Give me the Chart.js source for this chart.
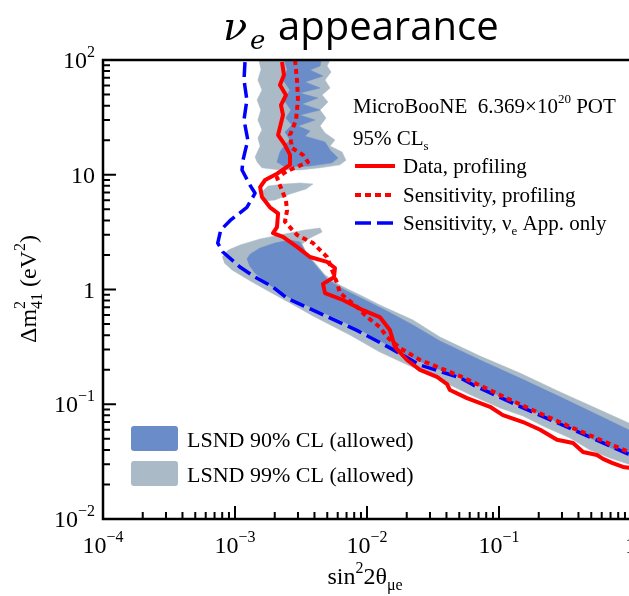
<!DOCTYPE html>
<html>
<head>
<meta charset="utf-8">
<script src="https://cdn.jsdelivr.net/npm/chart.js@4.4.1/dist/chart.umd.min.js"></script>
<style>
  html, body { margin: 0; padding: 0; background: #fff; overflow: hidden; }
  #clip { width: 629px; height: 596px; overflow: hidden; position: relative; }
  #wrap { width: 640px; height: 596px; position: absolute; left: 0; top: 0; }
</style>
</head>
<body>
<div id="clip"><div id="wrap"><canvas id="chart"></canvas></div></div>
<script>
// MicroBooNE nu_e appearance exclusion contours
const dataX = [2.27e-3, 2.35e-3, 2.19e-3, 2.43e-3, 2.23e-3, 2.31e-3, 2.12e-3, 2.39e-3, 2.61e-3, 2.61e-3, 2.08e-3, 1.69e-3, 1.55e-3, 1.60e-3, 1.84e-3, 2.12e-3, 2.08e-3, 1.94e-3, 2.31e-3, 2.95e-3, 3.70e-3, 4.98e-3, 5.72e-3, 5.62e-3, 4.64e-3, 4.81e-3, 6.58e-3, 9.33e-3, 1.25e-2, 1.49e-2, 1.63e-2, 2.01e-2, 2.52e-2, 3.39e-2, 4.04e-2, 4.25e-2, 5.72e-2, 8.55e-2, 0.107, 0.152, 0.205, 0.275, 0.364, 0.433, 0.553, 0.614, 0.718, 0.87, 1];
const dataY = [96, 74, 60.5, 49.5, 40.5, 33.2, 22.2, 18.2, 14.9, 12.2, 10.2, 9.0, 7.8, 6.4, 5.2, 4.6, 3.5, 3.1, 2.87, 2.35, 1.92, 1.74, 1.54, 1.28, 1.12, 0.93, 0.81, 0.66, 0.575, 0.444, 0.315, 0.243, 0.199, 0.173, 0.150, 0.133, 0.113, 0.095, 0.0805, 0.070, 0.060, 0.049, 0.046, 0.0384, 0.0361, 0.0334, 0.0308, 0.0284, 0.0278];

const sensX = [2.85e-3, 2.95e-3, 3.0e-3, 2.9e-3, 2.61e-3, 2.70e-3, 3.27e-3, 3.57e-3, 2.95e-3, 2.48e-3, 2.08e-3, 2.19e-3, 2.43e-3, 2.48e-3, 2.39e-3, 2.95e-3, 3.90e-3, 4.98e-3, 5.93e-3, 6.24e-3, 8.40e-3, 1.0e-2, 1.25e-2, 1.42e-2, 1.78e-2, 2.52e-2, 3.57e-2, 5.07e-2, 0.152, 0.364, 1];
const sensY = [100, 66.9, 44.8, 30, 22.2, 17.1, 14.9, 12.9, 11.7, 10.8, 9.4, 8.1, 6.0, 4.9, 3.9, 2.99, 2.54, 1.92, 1.14, 0.932, 0.704, 0.576, 0.471, 0.386, 0.309, 0.243, 0.207, 0.176, 0.097, 0.062, 0.0376];

const appX = [1.19e-3, 1.17e-3, 1.23e-3, 1.17e-3, 1.25e-3, 1.15e-3, 1.13e-3, 1.30e-3, 1.42e-3, 1.23e-3, 9.2e-4, 7.8e-4, 7.4e-4, 8.1e-4, 1.09e-3, 1.42e-3, 1.94e-3, 2.48e-3, 3.9e-3, 8.4e-3, 1.49e-2, 2.52e-2, 5.07e-2, 6.4e-2, 0.152, 0.364, 1];
const appY = [96, 67, 44.8, 30, 20.1, 13.4, 11, 8.1, 6.9, 5.2, 4.0, 3.3, 2.54, 2.12, 1.57, 1.28, 1.05, 0.84, 0.66, 0.44, 0.31, 0.22, 0.17, 0.147, 0.093, 0.060, 0.036];

// LSND allowed regions (closed outlines)
const lsnd90BandX = [1.23e-3, 1.30e-3, 1.55e-3, 2.01e-3, 2.61e-3, 3.10e-3, 3.27e-3, 3.57e-3, 4.25e-3, 5.06e-3, 6.81e-3, 9.65e-3, 1.37e-2, 2.23e-2, 3.57e-2, 7.18e-2, 0.144, 0.290, 0.583, 1, 1, 0.583, 0.363, 0.204, 0.102, 5.06e-2, 3.0e-2, 1.78e-2, 1.05e-2, 6.24e-3, 3.70e-3, 2.61e-3, 1.84e-3, 1.42e-3, 1.28e-3];
const lsnd90BandY = [1.84, 2.03, 2.30, 2.54, 2.70, 2.59, 2.35, 1.96, 1.54, 1.21, 0.99, 0.810, 0.663, 0.490, 0.356, 0.243, 0.169, 0.116, 0.0790, 0.0585, 0.0347, 0.0459, 0.0609, 0.0822, 0.118, 0.173, 0.215, 0.285, 0.401, 0.542, 0.704, 0.843, 1.09, 1.39, 1.63];

const lsnd90ColX = [2.31e-3, 4.57e-3, 4.41e-3, 3.70e-3, 4.64e-3, 3.39e-3, 4.41e-3, 3.10e-3, 4.25e-3, 3.22e-3, 4.41e-3, 3.10e-3, 4.04e-3, 3.0e-3, 3.70e-3, 3.39e-3, 4.81e-3, 5.25e-3, 6.03e-3, 5.43e-3, 3.70e-3, 2.39e-3, 2.08e-3, 2.19e-3, 2.39e-3, 2.61e-3, 2.39e-3, 2.70e-3, 2.43e-3, 2.65e-3, 2.35e-3, 2.61e-3, 2.31e-3, 2.48e-3];
const lsnd90ColY = [108, 108, 88.6, 81.8, 72.5, 64.3, 57, 51.6, 46.6, 41.4, 36.7, 33.1, 30, 26.6, 24.0, 21.7, 19.3, 16.4, 14.0, 12.7, 11.9, 11.7, 12.9, 15.8, 18.2, 20.1, 23.6, 27.1, 31.2, 36.7, 44.8, 54.8, 66.9, 81.8];

const lsnd99BandX = [8.0e-4, 8.9e-4, 1.09e-3, 1.55e-3, 2.39e-3, 3.39e-3, 4.41e-3, 4.57e-3, 3.70e-3, 3.22e-3, 3.45e-3, 4.04e-3, 4.81e-3, 6.24e-3, 8.85e-3, 1.25e-2, 2.23e-2, 3.57e-2, 7.18e-2, 0.144, 0.290, 0.583, 1, 1, 0.693, 0.489, 0.345, 0.223, 0.152, 0.102, 6.35e-2, 4.25e-2, 3.0e-2, 2.12e-2, 1.25e-2, 7.43e-3, 3.90e-3, 2.61e-3, 1.84e-3, 1.30e-3, 9.5e-4, 8.3e-4];
const lsnd99BandY = [1.92, 2.21, 2.44, 2.76, 3.04, 3.30, 3.43, 3.17, 2.81, 2.49, 2.12, 1.70, 1.34, 1.09, 0.896, 0.733, 0.542, 0.385, 0.263, 0.187, 0.128, 0.0891, 0.0673, 0.0296, 0.0340, 0.0399, 0.0508, 0.0633, 0.0790, 0.0927, 0.118, 0.147, 0.183, 0.215, 0.285, 0.401, 0.588, 0.763, 0.951, 1.19, 1.48, 1.70];

const lsnd99ColX = [1.49e-3, 5.43e-3, 4.98e-3, 5.34e-3, 4.81e-3, 5.25e-3, 4.57e-3, 5.06e-3, 4.41e-3, 4.89e-3, 4.41e-3, 4.81e-3, 5.72e-3, 5.25e-3, 6.47e-3, 6.93e-3, 6.24e-3, 4.41e-3, 3.10e-3, 2.19e-3, 1.60e-3, 1.47e-3, 1.42e-3, 1.55e-3, 1.49e-3, 1.60e-3, 1.49e-3, 1.57e-3, 1.47e-3, 1.60e-3, 1.49e-3, 1.57e-3];
const lsnd99ColY = [108, 108, 88.6, 78.6, 66.9, 57, 49.6, 43, 36.7, 31.2, 26.6, 23.1, 20.1, 17.8, 15.8, 13.4, 12.2, 11.5, 11.0, 11.0, 11.5, 12.9, 14.3, 17.8, 20.9, 24.6, 30, 36.7, 44.8, 54.8, 66.9, 81.8];

const lsnd99IslandX = [1.60e-3, 1.78e-3, 2.39e-3, 3.10e-3, 3.90e-3, 3.45e-3, 2.61e-3, 2.01e-3, 1.69e-3];
const lsnd99IslandY = [7.07, 7.98, 8.31, 8.47, 8.31, 7.51, 6.80, 6.03, 5.90];

const xTickValues = [1e-4, 1e-3, 1e-2, 1e-1, 1];
const xTickLabels = [['10', '\u22124'], ['10', '\u22123'], ['10', '\u22122'], ['10', '\u22121'], ['1', '']];
const yTickValues = [1e-2, 1e-1, 1, 10, 100];
const yTickLabels = [['10', '\u22122'], ['10', '\u22121'], ['1', ''], ['10', ''], ['10', '2']];

const C90 = '#6a8cc9';
const C99 = '#aabac6';
const SERIF = '"Liberation Serif", "Times New Roman", serif';
const f = (px, style) => (style ? style + ' ' : '') + px + 'px ' + SERIF;

function pts(xs, ys) { return xs.map((v, i) => ({ x: v, y: ys[i] })); }

function lineSet(label, xs, ys, color, width, dash) {
  return { label, data: pts(xs, ys), showLine: true, borderColor: color, borderWidth: width,
    borderDash: dash, pointRadius: 0, fill: false, tension: 0, borderJoinStyle: 'round' };
}
function areaSet(label, xs, ys, color) {
  return { label, data: pts(xs, ys), showLine: true, borderColor: color, borderWidth: 0.5,
    backgroundColor: color, pointRadius: 0, fill: 'shape', tension: 0 };
}

// text with super/subscripts
function rich(ctx, parts, x, y, align) {
  let w = 0;
  for (const p of parts) { ctx.font = p.f; if (p.adv !== false) w += ctx.measureText(p.t).width; }
  let cx = align === 'right' ? x - w : align === 'center' ? x - w / 2 : x;
  for (const p of parts) {
    ctx.font = p.f;
    ctx.fillText(p.t, cx, y + (p.dy || 0));
    if (p.adv !== false) cx += ctx.measureText(p.t).width;
  }
}

const overlay = {
  id: 'overlay',
  afterDraw(chart) {
    const { ctx, chartArea: a, scales: { x, y } } = chart;
    ctx.save();
    ctx.textAlign = 'left';
    ctx.textBaseline = 'alphabetic';
    ctx.fillStyle = '#000';
    ctx.strokeStyle = '#000';
    ctx.lineWidth = 2.5;
    ctx.strokeRect(a.left, a.top, a.right - a.left, a.bottom - a.top);

    // inward ticks
    ctx.lineWidth = 2;
    ctx.beginPath();
    for (let d = -4; d <= 0; d++) {
      for (let m = 1; m <= 9; m++) {
        const v = m * Math.pow(10, d);
        if (v > 1.0001) break;
        const px = x.getPixelForValue(v);
        ctx.moveTo(px, a.bottom);
        ctx.lineTo(px, a.bottom - (m === 1 ? 13 : 7));
      }
    }
    for (let d = -2; d <= 2; d++) {
      for (let m = 1; m <= 9; m++) {
        const v = m * Math.pow(10, d);
        if (v > 100.001) break;
        const py = y.getPixelForValue(v);
        ctx.moveTo(a.left, py);
        ctx.lineTo(a.left + (m === 1 ? 13 : 7), py);
      }
    }
    ctx.stroke();

    // tick labels
    xTickValues.forEach((v, i) => {
      const [b, e] = xTickLabels[i];
      rich(ctx, [{ t: b, f: f(24) }, { t: e, f: f(16), dy: -11 }], x.getPixelForValue(v), a.bottom + 34, 'center');
    });
    yTickValues.forEach((v, i) => {
      const [b, e] = yTickLabels[i];
      rich(ctx, [{ t: b, f: f(24) }, { t: e, f: f(16), dy: -11 }], a.left - 8, y.getPixelForValue(v) + 8, 'right');
    });

    // axis titles
    rich(ctx, [{ t: 'sin', f: f(24) }, { t: '2', f: f(16), dy: -11 }, { t: '2\u03b8', f: f(24) }, { t: '\u03bce', f: f(16), dy: 6 }], 365, 584, 'center');
    ctx.save();
    ctx.translate(36, 289);
    ctx.rotate(-Math.PI / 2);
    rich(ctx, [{ t: '\u0394m', f: f(24) }, { t: '2', f: f(16), dy: -11, adv: false }, { t: '41', f: f(16), dy: 6 },
      { t: ' (eV', f: f(24) }, { t: '2', f: f(16), dy: -11 }, { t: ')', f: f(24) }], 0, 0, 'center');
    ctx.restore();

    // title
    ctx.font = 'italic 40px "DejaVu Serif", serif';
    ctx.fillText('\u03bd', 223, 40);
    ctx.font = 'italic 26px "DejaVu Serif", serif';
    ctx.fillText('e', 250, 49);
    ctx.font = '40px "Open Sans", sans-serif';
    ctx.fillText('appearance', 278, 40);

    // legend, upper right
    rich(ctx, [{ t: 'MicroBooNE  6.369\u00d710', f: f(21) }, { t: '20', f: f(13), dy: -10 }, { t: ' POT', f: f(21) }], 353, 113);
    rich(ctx, [{ t: '95% CL', f: f(21) }, { t: 's', f: f(13), dy: 5 }], 353, 145);
    const items = [
      { y: 166, color: '#ff0000', w: 4, dash: [], text: [{ t: 'Data, profiling', f: f(21) }] },
      { y: 195, color: '#ff0000', w: 4, dash: [6, 4], text: [{ t: 'Sensitivity, profiling', f: f(21) }] },
      { y: 223, color: '#0000ff', w: 3.5, dash: [16, 6], text: [{ t: 'Sensitivity, \u03bd', f: f(21) }, { t: 'e', f: f(13), dy: 5 }, { t: ' App. only', f: f(21) }] }
    ];
    items.forEach(it => {
      ctx.save();
      ctx.strokeStyle = it.color;
      ctx.lineWidth = it.w;
      ctx.setLineDash(it.dash);
      ctx.beginPath();
      ctx.moveTo(355, it.y);
      ctx.lineTo(395, it.y);
      ctx.stroke();
      ctx.restore();
      rich(ctx, it.text, 403, it.y + 7);
    });

    // legend, lower left
    [[C90, 'LSND 90% CL (allowed)', 426], [C99, 'LSND 99% CL (allowed)', 461]].forEach(([c, t, top]) => {
      ctx.fillStyle = c;
      ctx.beginPath();
      ctx.roundRect(131, top, 47, 25, 3);
      ctx.fill();
      ctx.fillStyle = '#000';
      ctx.font = f(22);
      ctx.fillText(t, 187, top + 21);
    });
    ctx.restore();
  }
};

new Chart(document.getElementById('chart'), {
  type: 'scatter',
  data: {
    datasets: [
      lineSet('Data, profiling', dataX, dataY, '#ff0000', 4, []),
      lineSet('Sensitivity, profiling', sensX, sensY, '#ff0000', 4, [5, 4]),
      lineSet('Sensitivity, nu_e App. only', appX, appY, '#0000ff', 3.5, [15, 6]),
      areaSet('LSND 90% CL', lsnd90BandX, lsnd90BandY, C90),
      areaSet('LSND 90% CL', lsnd90ColX, lsnd90ColY, C90),
      areaSet('LSND 99% CL', lsnd99BandX, lsnd99BandY, C99),
      areaSet('LSND 99% CL', lsnd99ColX, lsnd99ColY, C99),
      areaSet('LSND 99% CL', lsnd99IslandX, lsnd99IslandY, C99)
    ]
  },
  options: {
    responsive: true,
    maintainAspectRatio: false,
    animation: false,
    events: [],
    layout: { padding: { left: 103, right: 9, top: 60, bottom: 77 } },
    plugins: { legend: { display: false }, tooltip: { enabled: false } },
    scales: {
      x: { type: 'logarithmic', min: 1e-4, max: 1, display: false },
      y: { type: 'logarithmic', min: 1e-2, max: 100, display: false }
    }
  },
  plugins: [overlay]
});
</script>
</body>
</html>
